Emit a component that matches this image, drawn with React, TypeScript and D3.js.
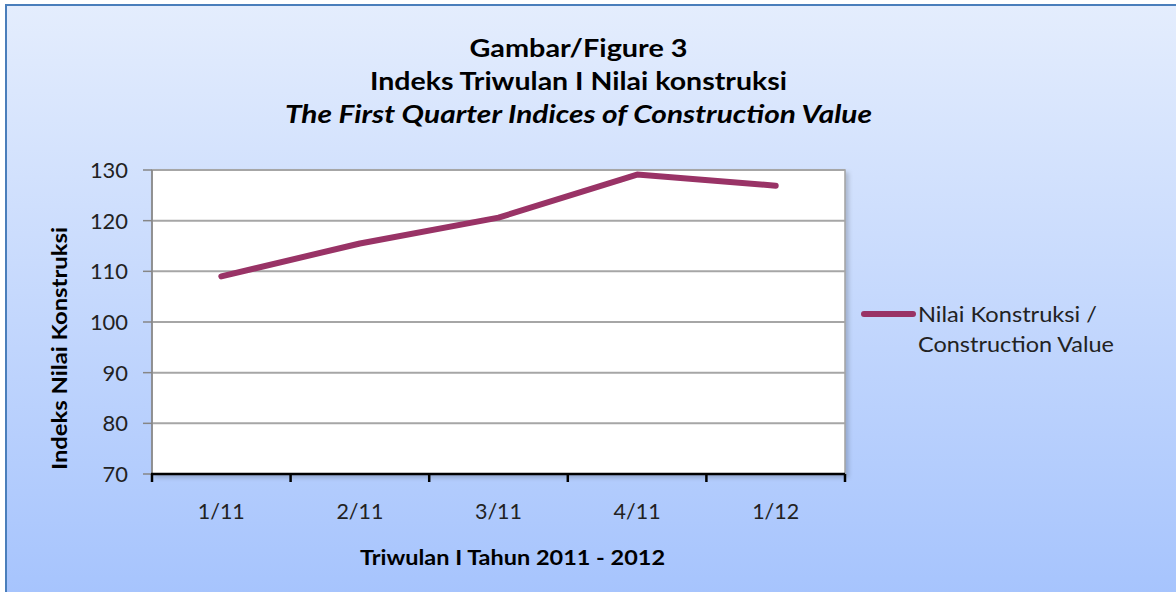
import React from "react";
import * as d3 from "d3";

const categories = ["1/11", "2/11", "3/11", "4/11", "1/12"];
const values = [109.0, 115.5, 120.6, 129.1, 126.9];
const yTicks = [70, 80, 90, 100, 110, 120, 130];
const titleLines = ["Gambar/Figure 3", "Indeks Triwulan I Nilai konstruksi", "The First Quarter Indices of Construction Value"];
const yTitle = "Indeks Nilai Konstruksi";
const xTitle = "Triwulan I Tahun 2011 - 2012";
const legendLines = ["Nilai Konstruksi /", "Construction Value"];

const W = 1176, H = 592;
const PL = 152, PR = 845, PT = 170, PB = 474;
const FONT = "Lato, 'Open Sans', sans-serif";
const LINE = "#993366";
const titleWidths = [218, 417, 587];
const legendWidths = [179, 196];

export default function App() {
  const x = d3.scaleBand().domain(categories).range([PL, PR]);
  const y = d3.scaleLinear().domain([70, 130]).range([PB, PT]);
  const line = d3.line<number>().x((_, i) => (x(categories[i]) as number) + x.bandwidth() / 2).y(d => y(d));
  const bounds = categories.map(c => x(c) as number).concat([PR]);
  return (
    <div style={{ position: "absolute", left: 0, top: 0 }}>
      <svg width={W} height={H} style={{ display: "block" }}>
        <defs>
          <linearGradient id="bg" x1="0" y1="0" x2="0" y2="1">
            <stop offset="0" stopColor="#e4edfd" />
            <stop offset="1" stopColor="#a5c3fd" />
          </linearGradient>
          <filter id="sh" x="-5%" y="-5%" width="110%" height="110%">
            <feDropShadow dx="3" dy="3" stdDeviation="2" floodColor="#000" floodOpacity="0.18" />
          </filter>
        </defs>
        <rect x={0} y={0} width={W} height={H} fill="#fff" />
        <rect x={6} y={5} width={W + 10} height={H + 10} fill="url(#bg)" stroke="#4a7ebb" strokeWidth={2} />
        {titleLines.map((t, i) => (
          <text key={i} x={578.5} y={57 + i * 33} textAnchor="middle" fontFamily={FONT} fontSize={25}
            fontWeight={700} fontStyle={i === 2 ? "italic" : "normal"} fill="#000"
            textLength={titleWidths[i]} lengthAdjust="spacingAndGlyphs">{t}</text>
        ))}
        <rect x={PL} y={PT} width={PR - PL} height={PB - PT} fill="#fff" stroke="#a0a0a0" strokeWidth={1.5} filter="url(#sh)" />
        {yTicks.map(t => (
          <g key={t}>
            {t !== 70 && <line x1={PL} x2={PR} y1={y(t)} y2={y(t)} stroke="#a6a6a6" strokeWidth={2} />}
            <line x1={PL - 9} x2={PL} y1={y(t)} y2={y(t)} stroke="#868686" strokeWidth={1.5} />
            <text x={128} y={y(t)} dy="0.36em" textAnchor="end" fontFamily={FONT} fontSize={22} fill="#222"
              textLength={String(t).length * 12.7} lengthAdjust="spacingAndGlyphs">{t}</text>
          </g>
        ))}
        <line x1={PL} x2={PL} y1={PT} y2={PB} stroke="#868686" strokeWidth={1.5} />
        <line x1={PL - 1} x2={PR} y1={PB} y2={PB} stroke="#000" strokeWidth={2.5} />
        {bounds.map((b, i) => (
          <line key={i} x1={b} x2={b} y1={PB} y2={PB + 8} stroke="#000" strokeWidth={2.5} />
        ))}
        {categories.map(c => (
          <text key={c} x={(x(c) as number) + x.bandwidth() / 2} y={519} textAnchor="middle" fontFamily={FONT} fontSize={22} fill="#222"
            textLength={47} lengthAdjust="spacingAndGlyphs">{c}</text>
        ))}
        <path d={line(values) || ""} fill="none" stroke={LINE} strokeWidth={6} strokeLinecap="round" strokeLinejoin="round" />
        <text transform={`translate(67,348.5) rotate(-90)`} textAnchor="middle" fontFamily={FONT} fontSize={21} fontWeight={700} fill="#000"
          textLength={243} lengthAdjust="spacingAndGlyphs">{yTitle}</text>
        <text x={512.5} y={565} textAnchor="middle" fontFamily={FONT} fontSize={21} fontWeight={700} fill="#000"
          textLength={305} lengthAdjust="spacingAndGlyphs">{xTitle}</text>
        <line x1={864} x2={913} y1={314} y2={314} stroke={LINE} strokeWidth={6} strokeLinecap="round" />
        {legendLines.map((t, i) => (
          <text key={i} x={918} y={314 + i * 30} dy="0.36em" fontFamily={FONT} fontSize={22} fill="#222"
            textLength={legendWidths[i]} lengthAdjust="spacingAndGlyphs">{t}</text>
        ))}
      </svg>
    </div>
  );
}
